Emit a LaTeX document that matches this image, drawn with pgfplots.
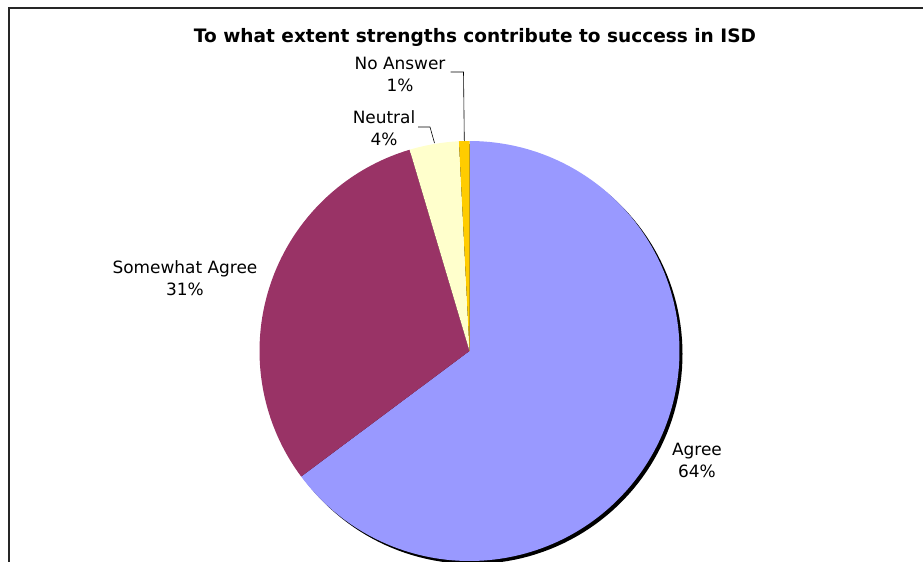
\documentclass[border=0pt]{standalone}
\usepackage{fontspec}
\setmainfont{DejaVu Sans}
\usepackage{pgfplots}
\pgfplotsset{compat=1.18}
\definecolor{cAgree}{RGB}{153,153,255}
\definecolor{cSome}{RGB}{153,51,102}
\definecolor{cNeutral}{RGB}{255,255,204}
\definecolor{cNoAns}{RGB}{255,204,0}
% slice shares (percent), clockwise from 12 o'clock
\def\vAgree{64.8}
\def\vSome{30.6}
\def\vNeutral{3.8}
\def\vNoAns{0.8}
\def\cx{469.5}
\def\cy{351}
\def\r{210}
\pgfmathsetmacro{\aA}{90-3.6*\vAgree}
\pgfmathsetmacro{\aB}{\aA-3.6*\vSome}
\pgfmathsetmacro{\aC}{\aB-3.6*\vNeutral}
\pgfmathsetmacro{\aD}{\aC-3.6*\vNoAns}
\begin{document}
\begin{tikzpicture}
\begin{axis}[scale only axis, width=923bp, height=562bp,
  xmin=0, xmax=923, ymin=0, ymax=562, y dir=reverse,
  hide axis, clip=true]
\path (rel axis cs:0,0) rectangle (rel axis cs:1,1);
% frame
\draw[black!85, line width=1.6pt] (axis cs:9,562) -- (axis cs:9,8) -- (axis cs:923,8);
% shadow
\addplot[fill=black, draw=none, domain=0:360, samples=180, variable=\t]
  ({\cx+3+\r*cos(\t)}, {\cy+3-\r*sin(\t)}) -- cycle;
% slices
\addplot[fill=cAgree, draw=none, domain=\aA:90, samples=160, variable=\t]
  ({\cx+\r*cos(\t)}, {\cy-\r*sin(\t)}) -- (axis cs:\cx,\cy) -- cycle;
\addplot[fill=cSome, draw=none, domain=\aB:\aA, samples=80, variable=\t]
  ({\cx+\r*cos(\t)}, {\cy-\r*sin(\t)}) -- (axis cs:\cx,\cy) -- cycle;
\addplot[fill=cNeutral, draw=none, domain=\aC:\aB, samples=20, variable=\t]
  ({\cx+\r*cos(\t)}, {\cy-\r*sin(\t)}) -- (axis cs:\cx,\cy) -- cycle;
\addplot[fill=cNoAns, draw=none, domain=\aD:\aC, samples=6, variable=\t]
  ({\cx+\r*cos(\t)}, {\cy-\r*sin(\t)}) -- (axis cs:\cx,\cy) -- cycle;
% leader lines
\draw[black, line width=0.6pt] (axis cs:450.5,72) -- (axis cs:463.5,72) -- (axis cs:464.3,141);
\draw[black, line width=0.6pt] (axis cs:418,127) -- (axis cs:430,127) -- (axis cs:434.5,143);
% title
\node[font=\fontsize{18.6}{22}\selectfont\bfseries, anchor=center] at (axis cs:475,37)
  {To what extent strengths contribute to success in ISD};
% labels
\tikzset{lab/.style={font=\fontsize{17}{22}\selectfont, align=center, anchor=center, inner sep=0pt}}
\node[lab] at (axis cs:400,74) {No Answer\\1\%};
\node[lab] at (axis cs:384,128) {Neutral\\4\%};
\node[lab] at (axis cs:185,278) {Somewhat Agree\\31\%};
\node[lab] at (axis cs:697,460) {Agree\\64\%};
\end{axis}
\end{tikzpicture}
\end{document}
